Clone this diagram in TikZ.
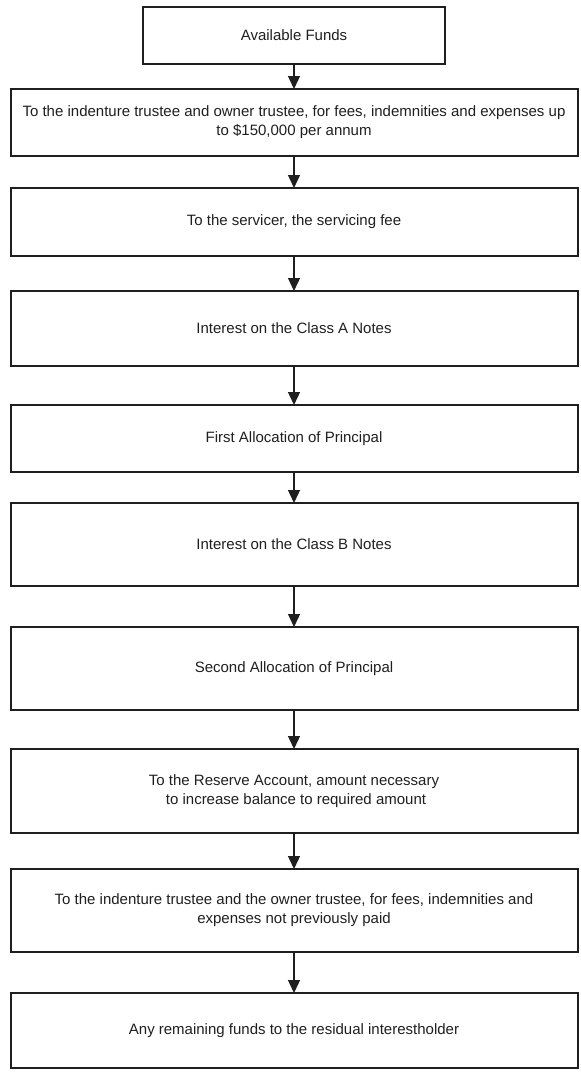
\documentclass[tikz,border=0pt]{standalone}
\usepackage{fontspec}
\setmainfont{Liberation Sans}
\usepackage{tikz}
\usetikzlibrary{arrows.meta,positioning}

\begin{document}
\begin{tikzpicture}[
  x=1pt, y=1pt,
  font=\fontsize{15}{19}\selectfont,
  >={Triangle[length=13pt,width=12pt]},
  box/.style={
    draw=black!88, line width=2pt, outer sep=0pt,
    align=center, inner sep=2pt,
    minimum width=567pt, text=black!88
  },
  arr/.style={->, line width=1.3pt, black!88}
]
  \useasboundingbox (0,0) rectangle (581,-1074);

  \node[box, minimum width=302pt, minimum height=57pt] (b1) at (294,-35.5)
    {Available Funds};
  \node[box, minimum height=67pt, below=25pt of b1] (b2)
    {To the indenture trustee and owner trustee, for fees, indemnities and expenses up\\
     to \$150,000 per annum};
  \node[box, minimum height=68pt, below=32pt of b2] (b3)
    {To the servicer, the servicing fee};
  \node[box, minimum height=75pt, below=35pt of b3] (b4)
    {Interest on the Class A Notes};
  \node[box, minimum height=67pt, below=39pt of b4] (b5)
    {First Allocation of Principal};
  \node[box, minimum height=83pt, below=31pt of b5] (b6)
    {Interest on the Class B Notes};
  \node[box, minimum height=83pt, below=41pt of b6] (b7)
    {Second Allocation of Principal};
  \node[box, minimum height=84pt, below=39pt of b7] (b8)
    {To the Reserve Account, amount necessary\\
     \hspace*{4pt}to increase balance to required amount};
  \node[box, minimum height=83pt, below=36pt of b8] (b9)
    {To the indenture trustee and the owner trustee, for fees, indemnities and\\
     expenses not previously paid};
  \node[box, minimum height=75pt, below=41pt of b9] (b10)
    {Any remaining funds to the residual interestholder};

  \foreach \a/\b in {b1/b2, b2/b3, b3/b4, b4/b5, b5/b6, b6/b7, b7/b8, b8/b9, b9/b10}
    \draw[arr] (\a) -- (\b);
\end{tikzpicture}
\end{document}
